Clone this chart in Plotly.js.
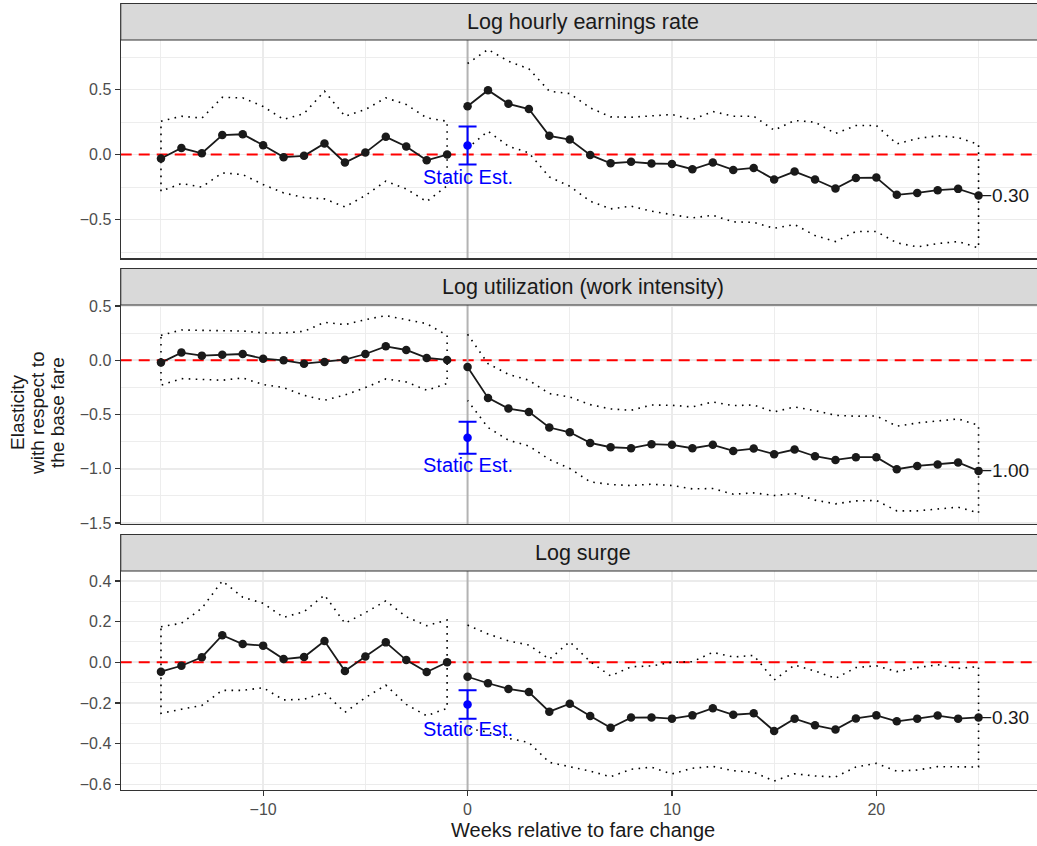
<!DOCTYPE html>
<html>
<head>
<meta charset="utf-8">
<script src="https://cdn.plot.ly/plotly-3.0.1.min.js"></script>
<style>
  html, body { margin: 0; padding: 0; background: #ffffff; overflow: hidden; }
  #chart { width: 1046px; height: 846px; }
</style>
</head>
<body>
<div id="chart"></div>
<script>
// Event-study weeks
const weeksPre  = [-15, -14, -13, -12, -11, -10, -9, -8, -7, -6, -5, -4, -3, -2, -1];
const weeksPost = [0, 1, 2, 3, 4, 5, 6, 7, 8, 9, 10, 11, 12, 13, 14, 15, 16, 17, 18, 19, 20, 21, 22, 23, 24, 25];

const panelTitles = ["Log hourly earnings rate", "Log utilization (work intensity)", "Log surge"];

// Log hourly earnings rate
const earnPreEst   = [-0.03, 0.05, 0.01, 0.15, 0.156, 0.072, -0.02, -0.01, 0.085, -0.062, 0.015, 0.136, 0.062, -0.044, 0.0];
const earnPreHi    = [0.256, 0.295, 0.28, 0.44, 0.436, 0.37, 0.27, 0.315, 0.487, 0.295, 0.346, 0.436, 0.385, 0.282, 0.256];
const earnPreLo    = [-0.282, -0.223, -0.25, -0.141, -0.154, -0.231, -0.295, -0.331, -0.341, -0.403, -0.315, -0.205, -0.264, -0.362, -0.24];
const earnPostEst  = [0.372, 0.495, 0.39, 0.35, 0.144, 0.115, -0.003, -0.067, -0.056, -0.069, -0.072, -0.113, -0.062, -0.118, -0.103, -0.192, -0.131, -0.192, -0.262, -0.18, -0.177, -0.31, -0.295, -0.274, -0.264, -0.315];
const earnPostHi   = [0.70, 0.808, 0.718, 0.659, 0.487, 0.469, 0.359, 0.29, 0.287, 0.3, 0.308, 0.269, 0.331, 0.295, 0.295, 0.187, 0.262, 0.249, 0.162, 0.223, 0.223, 0.082, 0.123, 0.144, 0.131, 0.077];
const earnPostLo   = [0.05, 0.179, 0.064, 0.013, -0.172, -0.244, -0.359, -0.418, -0.397, -0.436, -0.462, -0.487, -0.467, -0.518, -0.521, -0.567, -0.538, -0.623, -0.669, -0.592, -0.592, -0.679, -0.71, -0.685, -0.669, -0.718];
const earnStatic   = 0.07;
const earnStaticSe = 0.146;

// Log utilization (work intensity)
const utilPreEst   = [-0.021, 0.071, 0.043, 0.052, 0.058, 0.015, 0.0, -0.031, -0.015, 0.006, 0.058, 0.129, 0.095, 0.022, 0.003];
const utilPreHi    = [0.23, 0.28, 0.276, 0.276, 0.27, 0.252, 0.252, 0.267, 0.35, 0.329, 0.375, 0.412, 0.378, 0.338, 0.23];
const utilPreLo    = [-0.23, -0.169, -0.178, -0.184, -0.163, -0.224, -0.252, -0.323, -0.369, -0.32, -0.252, -0.172, -0.2, -0.276, -0.215];
const utilPostEst  = [-0.061, -0.347, -0.445, -0.476, -0.62, -0.664, -0.762, -0.802, -0.811, -0.774, -0.78, -0.811, -0.78, -0.836, -0.814, -0.866, -0.823, -0.885, -0.919, -0.894, -0.894, -1.005, -0.974, -0.961, -0.943, -1.02];
const utilPostHi   = [0.24, -0.031, -0.129, -0.184, -0.307, -0.338, -0.409, -0.449, -0.461, -0.412, -0.415, -0.43, -0.384, -0.418, -0.412, -0.476, -0.43, -0.464, -0.507, -0.516, -0.513, -0.608, -0.578, -0.559, -0.541, -0.599];
const utilPostLo   = [-0.37, -0.62, -0.737, -0.79, -0.915, -0.998, -1.121, -1.146, -1.155, -1.143, -1.155, -1.186, -1.183, -1.235, -1.223, -1.247, -1.229, -1.29, -1.324, -1.297, -1.293, -1.389, -1.389, -1.373, -1.355, -1.407];
const utilStatic   = -0.715;
const utilStaticSe = 0.148;

// Log surge
const surgePreEst  = [-0.046, -0.017, 0.025, 0.133, 0.09, 0.082, 0.016, 0.026, 0.105, -0.043, 0.028, 0.098, 0.011, -0.048, 0.0];
const surgePreHi   = [0.175, 0.192, 0.266, 0.4, 0.32, 0.29, 0.221, 0.249, 0.331, 0.192, 0.244, 0.302, 0.224, 0.18, 0.208];
const surgePreLo   = [-0.251, -0.231, -0.212, -0.138, -0.138, -0.125, -0.185, -0.182, -0.149, -0.246, -0.174, -0.112, -0.207, -0.263, -0.226];
const surgePostEst = [-0.071, -0.103, -0.131, -0.146, -0.243, -0.204, -0.264, -0.322, -0.272, -0.271, -0.277, -0.261, -0.226, -0.258, -0.251, -0.338, -0.277, -0.31, -0.331, -0.276, -0.261, -0.29, -0.277, -0.262, -0.277, -0.271];
const surgePostHi  = [0.183, 0.139, 0.105, 0.085, 0.015, 0.101, 0.003, -0.067, -0.022, -0.018, 0.0, 0.003, 0.049, 0.026, 0.034, -0.087, -0.013, -0.043, -0.079, -0.026, -0.017, -0.046, -0.026, -0.012, -0.03, -0.021];
const surgePostLo  = [-0.325, -0.344, -0.374, -0.394, -0.492, -0.513, -0.535, -0.563, -0.526, -0.516, -0.549, -0.521, -0.512, -0.533, -0.541, -0.584, -0.548, -0.559, -0.564, -0.515, -0.497, -0.535, -0.53, -0.513, -0.515, -0.515];
const surgeStatic   = -0.207;
const surgeStaticSe = 0.07;

const staticLabel = "Static Est.";
const xTitle = "Weeks relative to fare change";
const yTitleLines = ["Elasticity", "with respect to", "the base fare"];

// ---- layout geometry (pixels) ----
const W = 1046, H = 846;
const FONT = "Liberation Sans, Arial, Helvetica, sans-serif";
const plotLeft = 120.7, plotRight = 1046;
const panelsPx = [
  { stripTop: 3.5,   top: 40,  bottom: 258.3, yRange: [-0.798, 0.881], dtick: 0.5, minor: 0.25, labelShift: -13 },
  { stripTop: 268.5, top: 305, bottom: 524,   yRange: [-1.51, 0.51],   dtick: 0.5, minor: 0.25, labelShift: -11 },
  { stripTop: 534.5, top: 571, bottom: 790,   yRange: [-0.628, 0.449], dtick: 0.2, minor: 0.1,  labelShift: -10 }
];
const xRange = [-16.97, 28.3];
const px2x = p => p / W;
const px2y = p => 1 - p / H;

const series = [
  { preEst: earnPreEst,  preHi: earnPreHi,  preLo: earnPreLo,  postEst: earnPostEst,  postHi: earnPostHi,  postLo: earnPostLo,  st: earnStatic,  se: earnStaticSe },
  { preEst: utilPreEst,  preHi: utilPreHi,  preLo: utilPreLo,  postEst: utilPostEst,  postHi: utilPostHi,  postLo: utilPostLo,  st: utilStatic,  se: utilStaticSe },
  { preEst: surgePreEst, preHi: surgePreHi, preLo: surgePreLo, postEst: surgePostEst, postHi: surgePostHi, postLo: surgePostLo, st: surgeStatic, se: surgeStaticSe }
];

const rev = a => a.slice().reverse();
const fmtEnd = v => {
  const r = Math.round(v * 10) / 10;
  return (r < 0 ? "\u2212" : "") + Math.abs(r).toFixed(2);
};

const traces = [];
const shapes = [];
const annotations = [];
const layout = {
  width: W, height: H,
  margin: { l: 0, r: 0, t: 0, b: 0 },
  paper_bgcolor: "#ffffff",
  plot_bgcolor: "#ffffff",
  showlegend: false,
  font: { family: FONT, color: "#1a1a1a" }
};

const dotted = { color: "#000000", width: 1.6, dash: "1.6px,5.4px" };

series.forEach((s, i) => {
  const n = i === 0 ? "" : String(i + 1);
  const xa = "x" + n, ya = "y" + n;
  const g = panelsPx[i];

  // reference lines: zero effect and the week of the fare change
  traces.push({
    type: "scatter", mode: "lines", xaxis: xa, yaxis: ya,
    x: xRange, y: [0, 0],
    line: { color: "#ff0000", width: 2, dash: "11px,7px" }, hoverinfo: "skip"
  });
  traces.push({
    type: "scatter", mode: "lines", xaxis: xa, yaxis: ya,
    x: [0, 0], y: g.yRange,
    line: { color: "#b3b3b3", width: 2 }, hoverinfo: "skip"
  });

  // pre-period confidence band outline (closed)
  traces.push({
    type: "scatter", mode: "lines", xaxis: xa, yaxis: ya,
    x: weeksPre.concat(rev(weeksPre), [weeksPre[0]]),
    y: s.preHi.concat(rev(s.preLo), [s.preHi[0]]),
    line: dotted, hoverinfo: "skip"
  });
  // post-period confidence band outline
  traces.push({
    type: "scatter", mode: "lines", xaxis: xa, yaxis: ya,
    x: weeksPost.concat(rev(weeksPost)),
    y: s.postHi.concat(rev(s.postLo)),
    line: dotted, hoverinfo: "skip"
  });
  // point estimates
  [[weeksPre, s.preEst], [weeksPost, s.postEst]].forEach(([xs, ys]) => {
    traces.push({
      type: "scatter", mode: "lines+markers", xaxis: xa, yaxis: ya,
      x: xs, y: ys,
      line: { color: "#1a1a1a", width: 1.8 },
      marker: { color: "#1a1a1a", size: 8.5 }
    });
  });
  // static estimate with error bar
  traces.push({
    type: "scatter", mode: "markers", xaxis: xa, yaxis: ya,
    x: [0], y: [s.st],
    marker: { color: "#0000ff", size: 8.5 },
    error_y: { type: "data", array: [s.se], color: "#0000ff", thickness: 2, width: 9 }
  });

  annotations.push({
    xref: xa, yref: ya, x: 0, y: s.st - s.se, yshift: g.labelShift,
    text: staticLabel, showarrow: false, xanchor: "center", yanchor: "middle",
    font: { family: FONT, size: 20, color: "#0000ff" }
  });
  const last = s.postEst[s.postEst.length - 1];
  annotations.push({
    xref: xa, yref: ya, x: weeksPost[weeksPost.length - 1], y: last, xshift: 0,
    text: fmtEnd(last), showarrow: false, xanchor: "left", yanchor: "middle",
    font: { family: FONT, size: 19, color: "#1a1a1a" }
  });

  // facet strip
  shapes.push({
    type: "rect", layer: "above", xref: "paper", yref: "paper",
    x0: px2x(plotLeft), x1: px2x(plotRight), y0: px2y(g.top), y1: px2y(g.stripTop),
    fillcolor: "#d9d9d9", line: { color: "#333333", width: 1.2 }
  });
  annotations.push({
    xref: "paper", yref: "paper",
    x: px2x((plotLeft + plotRight) / 2), y: px2y((g.top + g.stripTop) / 2),
    text: panelTitles[i], showarrow: false, xanchor: "center", yanchor: "middle",
    font: { family: FONT, size: 21.5, color: "#1a1a1a" }
  });

  const isBottom = i === series.length - 1;
  layout["xaxis" + n] = {
    domain: [px2x(plotLeft), px2x(plotRight)],
    anchor: ya, range: xRange, autorange: false,
    tick0: 0, dtick: 10,
    showgrid: true, gridcolor: "#ebebeb", gridwidth: 1.6,
    minor: { tick0: 5, dtick: 10, showgrid: true, gridcolor: "#ebebeb", gridwidth: 0.9 },
    zeroline: false,
    showline: true, mirror: true, linecolor: "#333333", linewidth: 1.2,
    ticks: isBottom ? "outside" : "", ticklen: 5, tickwidth: 1.2, tickcolor: "#333333",
    showticklabels: isBottom,
    tickfont: { family: FONT, size: 16, color: "#4d4d4d" },
    automargin: false, fixedrange: true
  };
  if (i > 0) layout["xaxis" + n].matches = "x";
  layout["yaxis" + n] = {
    domain: [px2y(g.bottom), px2y(g.top)],
    anchor: xa, range: g.yRange, autorange: false,
    tick0: 0, dtick: g.dtick, tickformat: ".1f",
    showgrid: true, gridcolor: "#ebebeb", gridwidth: 1.6,
    minor: { tick0: g.minor, dtick: g.dtick, showgrid: true, gridcolor: "#ebebeb", gridwidth: 0.9 },
    zeroline: false,
    showline: true, mirror: true, linecolor: "#333333", linewidth: 1.2,
    ticks: "outside", ticklen: 5, tickwidth: 1.2, tickcolor: "#333333",
    tickfont: { family: FONT, size: 16, color: "#4d4d4d" },
    automargin: false, fixedrange: true
  };
});

// axis titles
annotations.push({
  xref: "paper", yref: "paper",
  x: px2x((plotLeft + plotRight) / 2), y: px2y(830),
  text: xTitle, showarrow: false, xanchor: "center", yanchor: "middle",
  font: { family: FONT, size: 20, color: "#1a1a1a" }
});
const yTitleX = [17, 37, 57];
yTitleLines.forEach((t, k) => {
  annotations.push({
    xref: "paper", yref: "paper",
    x: px2x(yTitleX[k]), y: px2y(413),
    text: t, textangle: -90, showarrow: false, xanchor: "center", yanchor: "middle",
    font: { family: FONT, size: 19, color: "#1a1a1a" }
  });
});

layout.shapes = shapes;
layout.annotations = annotations;

Plotly.newPlot("chart", traces, layout, { staticPlot: true, displayModeBar: false });
</script>
</body>
</html>
